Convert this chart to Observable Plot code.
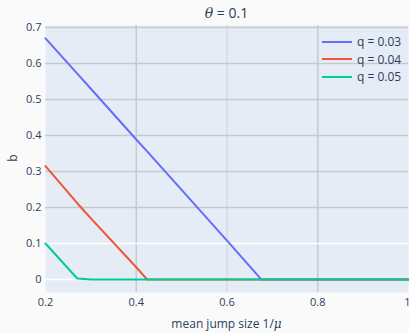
<!DOCTYPE html>
<html>
<head>
<meta charset="utf-8">
<script src="https://cdn.jsdelivr.net/npm/d3@7"></script>
<script src="https://cdn.jsdelivr.net/npm/@observablehq/plot@0.6"></script>
<style>
  html, body { margin: 0; padding: 0; background: #fafafa; }
  #wrap { position: relative; width: 409px; height: 333px; font-family: "Open Sans", "Noto Sans", sans-serif; color: #2a3f5f; overflow: hidden; }
  #wrap svg { position: absolute; left: 0; top: 0; }
  .lbl { position: absolute; white-space: nowrap; color: #2a3f5f; }
  #title { left: 0; width: 453px; top: 3px; text-align: center; font-size: 14px; }
  #xlabel { left: 0; width: 453px; top: 315px; text-align: center; font-size: 12px; }
  #ylabel { left: 12px; top: 158px; font-size: 12px; transform: translate(-50%, -50%) rotate(-90deg); }
  #legend { position: absolute; left: 322px; top: 33px; font-size: 12px; }
  .item { display: flex; align-items: center; height: 17.5px; }
  .swatch { width: 30px; height: 2px; margin-right: 5px; }
</style>
</head>
<body>
<div id="wrap"></div>
<script>
// ---- data ----
const xs = [0.2, 0.27, 0.3, 0.4, 0.424, 0.5, 0.6, 0.676, 0.8, 1.0];
const seriesNames = ["q = 0.03", "q = 0.04", "q = 0.05"];
const b003 = [0.670, 0.572, 0.530, 0.389, 0.356, 0.249, 0.108, 0, 0, 0];
const b004 = [0.315, 0.212, 0.170, 0.034, 0, 0, 0, 0, 0, 0];
const b005 = [0.100, 0.003, 0, 0, 0, 0, 0, 0, 0, 0];
const xTicks = [0.2, 0.4, 0.6, 0.8, 1];
const yTicks = [0, 0.1, 0.2, 0.3, 0.4, 0.5, 0.6, 0.7];
const colors = ["#636efa", "#ef553b", "#00cc96"];

const rows = [];
[b003, b004, b005].forEach((arr, i) => arr.forEach((v, j) => rows.push({x: xs[j], b: v, s: seriesNames[i]})));

const grayY = yTicks.filter(t => t >= 0.2);
const whiteY = yTicks.filter(t => t < 0.2);
const lastX = xTicks[xTicks.length - 1];
const innerX = xTicks.slice(0, -1);

const plot = Plot.plot({
  width: 409,
  height: 333,
  marginLeft: 45,
  marginRight: 1,
  marginTop: 25,
  marginBottom: 41,
  style: {background: "transparent", fontFamily: "'Open Sans', 'Noto Sans', sans-serif", fontSize: "11px", color: "#2a3f5f"},
  x: {domain: [0.2, 1.0], label: null},
  y: {domain: [-0.036, 0.7056], label: null},
  color: {domain: seriesNames, range: colors},
  marks: [
    Plot.frame({fill: "#e5ecf6", stroke: null}),
    Plot.ruleX(xTicks.filter(t => t === 0.4 || t === 0.8), {stroke: "#c6c9ce", strokeWidth: 1.5}),
    Plot.ruleX(xTicks.filter(t => t === 0.6), {stroke: "#d3d6db", strokeWidth: 1.2}),
    Plot.ruleY(grayY, {stroke: "#c6c9ce", strokeWidth: 1.5}),
    Plot.ruleY(whiteY, {stroke: "#ffffff", strokeWidth: 1.5}),
    Plot.axisX({ticks: innerX, tickSize: 0, tickPadding: 6, tickFormat: d => String(d), label: null, fill: "#2a3f5f"}),
    Plot.axisX({ticks: [lastX], tickSize: 0, tickPadding: 6, tickFormat: d => String(d), label: null, fill: "#2a3f5f", textAnchor: "end", dx: 2}),
    Plot.axisY({ticks: yTicks, tickSize: 0, tickPadding: 4, tickFormat: d => String(d), label: null, fill: "#2a3f5f"}),
    Plot.line(rows, {x: "x", y: "b", z: "s", stroke: "s", strokeWidth: 2})
  ]
});

const wrap = document.getElementById("wrap");
wrap.appendChild(plot);

const t = document.createElement("div");
t.id = "title"; t.className = "lbl";
t.innerHTML = '<i style="font-family:\'DejaVu Serif\', serif">θ</i> = 0.1';
wrap.appendChild(t);

const xl = document.createElement("div");
xl.id = "xlabel"; xl.className = "lbl";
xl.innerHTML = 'mean jump size 1/<i style="font-family:\'DejaVu Serif\', serif">μ</i>';
wrap.appendChild(xl);

const yl = document.createElement("div");
yl.id = "ylabel"; yl.className = "lbl";
yl.textContent = "b";
wrap.appendChild(yl);

const lg = document.createElement("div");
lg.id = "legend";
seriesNames.forEach((n, i) => {
  const it = document.createElement("div");
  it.className = "item";
  it.innerHTML = `<span class="swatch" style="background:${colors[i]}"></span><span>${n}</span>`;
  lg.appendChild(it);
});
wrap.appendChild(lg);
</script>
</body>
</html>
